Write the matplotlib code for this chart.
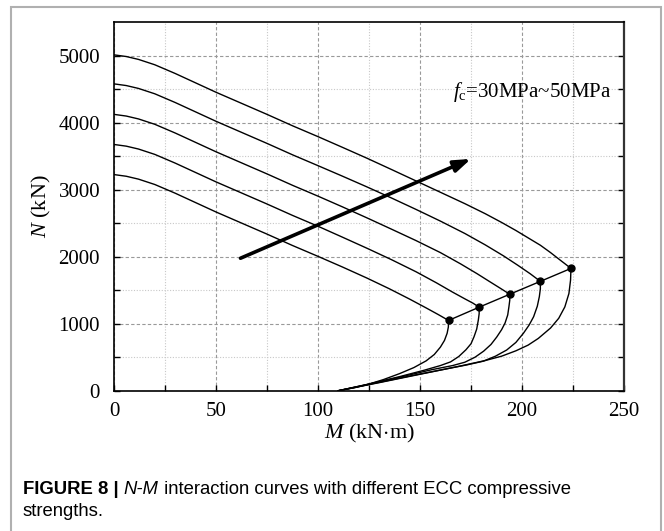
import matplotlib.pyplot as plt
from matplotlib.patches import Rectangle

plt.rcParams['font.family'] = 'Liberation Serif'
plt.rcParams['mathtext.fontset'] = 'custom'
plt.rcParams['mathtext.rm'] = 'Liberation Serif'
plt.rcParams['mathtext.it'] = 'Liberation Serif:italic'

# upper (compression-controlled) branches, M in kN.m, N in kN
M_up1 = [0, 6, 12, 20, 30, 40, 50, 62.5, 75, 87.5, 100, 112, 124, 136, 148, 160, 172, 182, 190, 197, 203, 209, 214, 218, 221, 224]
N_up1 = [5010, 4985, 4942, 4862, 4732, 4592, 4452, 4287, 4122, 3952, 3790, 3630, 3468, 3300, 3130, 2960, 2790, 2640, 2510, 2390, 2280, 2170, 2060, 1965, 1895, 1824]
M_up2 = [0, 6, 12, 20, 30, 40, 50, 62.5, 75, 87.5, 100, 112, 124, 136, 148, 160, 172, 182, 191, 198, 204, 209]
N_up2 = [4577, 4552, 4509, 4429, 4299, 4159, 4019, 3854, 3689, 3519, 3357, 3200, 3040, 2875, 2705, 2530, 2345, 2175, 2010, 1870, 1745, 1631]
M_up3 = [0, 6, 12, 20, 30, 40, 50, 62.5, 75, 87.5, 100, 112, 124, 136, 148, 160, 170, 178, 184, 189, 194]
N_up3 = [4122, 4097, 4054, 3974, 3844, 3704, 3564, 3399, 3234, 3064, 2902, 2742, 2578, 2410, 2240, 2060, 1890, 1745, 1630, 1535, 1439]
M_up4 = [0, 6, 12, 20, 30, 40, 50, 62.5, 75, 87.5, 100, 112, 124, 136, 148, 158, 166, 172, 176, 179]
N_up4 = [3673, 3648, 3605, 3525, 3395, 3255, 3115, 2950, 2785, 2615, 2453, 2290, 2125, 1955, 1775, 1610, 1470, 1370, 1305, 1246]
M_up5 = [0, 6, 12, 20, 30, 40, 50, 62.5, 75, 87.5, 100, 112, 124, 135, 145, 153, 159, 164]
N_up5 = [3224, 3199, 3156, 3076, 2946, 2806, 2666, 2501, 2336, 2166, 2004, 1845, 1680, 1520, 1365, 1235, 1135, 1048]

# lower (tension-controlled) branches
M_lo1 = [110, 130, 150, 170, 182, 190, 197, 203, 208, 214, 218, 221, 223, 223.8, 224]
N_lo1 = [0, 120, 245, 370, 450, 515, 595, 680, 780, 935, 1080, 1250, 1450, 1650, 1824]
M_lo2 = [110, 128, 146, 162, 173, 181, 187, 192.5, 197, 200.7, 203.5, 205.7, 207.5, 208.5, 209, 209]
N_lo2 = [0, 112, 225, 320, 385, 440, 515, 607, 720, 857, 980, 1104, 1260, 1403, 1520, 1631]
M_lo3 = [110, 126, 142, 156, 166, 172, 177, 181.2, 184.8, 187.6, 190, 191.7, 193, 193.6, 194, 194]
N_lo3 = [0, 105, 215, 315, 375, 425, 500, 590, 690, 800, 910, 1010, 1130, 1254, 1350, 1439]
M_lo4 = [110, 125, 140, 152, 160, 165, 169, 172.5, 175, 176.5, 177.8, 178.6, 179, 179]
N_lo4 = [0, 100, 210, 305, 375, 430, 510, 610, 700, 806, 920, 1055, 1150, 1246]
M_lo5 = [110, 118, 124, 132, 140, 147, 153, 157, 160, 162, 163.3, 163.9, 164]
N_lo5 = [0, 45, 90, 165, 255, 345, 445, 540, 650, 750, 857, 950, 1048]

# balance points
M_bal = [164, 179, 194, 209, 224]
N_bal = [1048, 1246, 1439, 1631, 1824]

# arrow (fc increasing)
arrow_start = (62, 1976)
arrow_end = (175, 3458)

fig = plt.figure(figsize=(6.64, 5.31), dpi=100)
ax = fig.add_axes([114/664, 1-390.7/531, 510/664, 368.7/531])

ups = [(M_up1, N_up1), (M_up2, N_up2), (M_up3, N_up3), (M_up4, N_up4), (M_up5, N_up5)]
los = [(M_lo1, N_lo1), (M_lo2, N_lo2), (M_lo3, N_lo3), (M_lo4, N_lo4), (M_lo5, N_lo5)]
for (mu, nu), (ml, nl) in zip(ups, los):
    ax.plot(mu, nu, color='black', lw=1.0)
    ax.plot(ml, nl, color='black', lw=1.0)
ax.plot(M_bal, N_bal, color='black', lw=1.0, marker='o', ms=5)

ax.annotate('', xy=arrow_end, xytext=arrow_start,
            arrowprops=dict(arrowstyle='-|>,head_length=1.0,head_width=0.35',
                            color='black', lw=2.6, shrinkA=0, shrinkB=0))
ax.text(166, 4460, r'$f_{\mathrm{c}}$=30MPa~50MPa', fontsize=15, va='center', ha='left')

ax.set_xlim(0, 250)
ax.set_ylim(0, 5500)
ax.set_xticks([0, 50, 100, 150, 200, 250])
ax.set_xticks([25, 75, 125, 175, 225], minor=True)
ax.set_yticks([0, 1000, 2000, 3000, 4000, 5000])
ax.set_yticks([500, 1500, 2500, 3500, 4500], minor=True)
ax.tick_params(which='both', direction='in', length=4, width=1.0,
               left=True, right=True, top=False, bottom=True, labelsize=15)
ax.tick_params(axis='x', which='both', pad=8)
ax.tick_params(axis='y', which='both', pad=10)
ax.grid(which='major', linestyle=(0, (3, 2)), color='#999999', lw=0.8)
ax.grid(which='minor', linestyle=(0, (1, 1.5)), color='#c8c8c8', lw=0.8)
ax.set_axisbelow(True)
for s in ax.spines.values():
    s.set_linewidth(1.2)
ax.spines['right'].set_linewidth(1.6)
ax.spines['right'].set_color('#333333')

ax.set_xlabel(r'$M$ (kN$\cdot$m)', fontsize=16, labelpad=1)
ax.set_ylabel(r'$N$ (kN)', fontsize=16, labelpad=4)

# outer frame and caption
fig.patches.append(Rectangle((11/664, -0.05), 650/664, 1.05 - 7/531, transform=fig.transFigure,
                             fill=False, edgecolor='#b0b0b0', lw=1.5))

cap_size = 13.3
renderer = fig.canvas.get_renderer()
x = 23
pieces = [('FIGURE 8 | ', 'bold', 'normal'), ('N-M', 'normal', 'italic'),
          (' interaction curves with different ECC compressive', 'normal', 'normal')]
for txt, wt, st in pieces:
    t = fig.text(x/664, 1-489/531, txt, fontsize=cap_size, fontweight=wt, fontstyle=st,
                 family='Liberation Sans', va='center', ha='left')
    x += t.get_window_extent(renderer).width
fig.text(23/664, 1-511/531, 'strengths.', fontsize=cap_size, family='Liberation Sans',
         va='center', ha='left')

fig.savefig('out.png', dpi=100)
